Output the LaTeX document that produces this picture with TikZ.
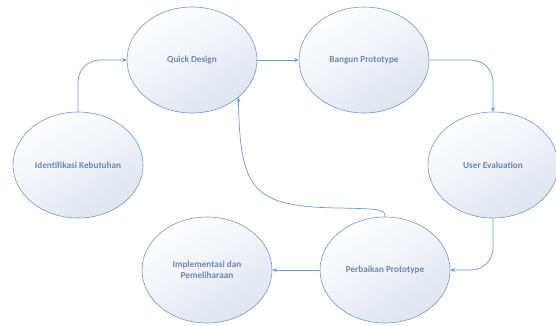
\documentclass[tikz,border=0pt]{standalone}
\usepackage{fontspec}
\setmainfont{Carlito}
\usetikzlibrary{shapes.geometric,arrows.meta}
\definecolor{lineblue}{HTML}{6C9BCB}
\definecolor{txtblue}{HTML}{6A88B0}
\definecolor{fillblue}{HTML}{DFE4F0}
\tikzset{
  proc/.style={ellipse, draw=lineblue, line width=0.6pt, minimum width=130pt, minimum height=106pt, inner sep=0pt,
    top color=white, bottom color=fillblue, shading angle=30,
    font=\bfseries\fontsize{9.2}{11}\selectfont, text=txtblue, align=center},
  conn/.style={draw=lineblue, line width=0.7pt, -{Stealth[length=4.5pt,width=4pt]}}
}
\begin{document}
\begin{tikzpicture}[x=1pt,y=-1pt]
\useasboundingbox (0,0) rectangle (556,325);
\node[proc] (qd) at (192,60) {Quick Design};
\node[proc] (bp) at (364,60) {Bangun Prototype};
\node[proc] (ue) at (493,165) {User Evaluation};
\node[proc] (ik) at (78,165) {Identifikasi Kebutuhan};
\node[proc] (im) at (207,270) {Implementasi dan\\Pemeliharaan};
\node[proc] (pp) at (385,270) {Perbaikan Prototype};
\draw[conn, rounded corners=22pt] (ik.north) |- (qd.west);
\draw[conn] (qd.east) -- (bp.west);
\draw[conn, rounded corners=22pt] (bp.east) -| (ue.north);
\draw[conn, rounded corners=22pt] (ue.south) |- (pp.east);
\draw[conn] (pp.west) -- (im.east);
\draw[conn] (pp.north) .. controls (385,209) and (380,209) .. (340,208) .. controls (252,207) and (240,190) .. (qd.-39);
\end{tikzpicture}
\end{document}
